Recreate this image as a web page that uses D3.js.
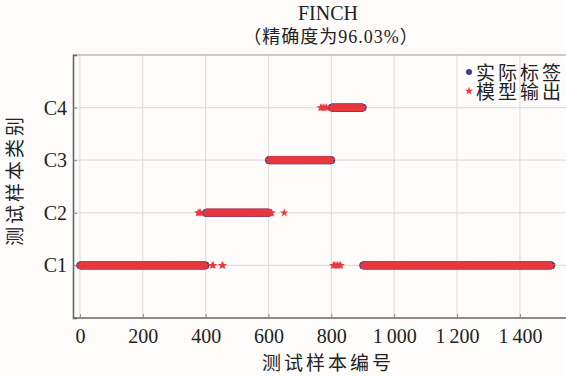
<!DOCTYPE html>
<html>
<head>
<meta charset="utf-8">
<script src="https://cdn.jsdelivr.net/npm/d3@7"></script>
<style>
  body { margin: 0; background: #fdfcfa; }
  svg { display: block; }
  text { font-family: "Liberation Serif", "Noto Sans CJK SC", serif; fill: #222; }
</style>
</head>
<body>
<svg id="chart"></svg>
<script>
// data
var classNames = ["C1", "C2", "C3", "C4"];
// true label ranges: [first sample, last sample, class index 1..4]
var segStart = [1, 401, 601, 801, 901];
var segEnd   = [400, 600, 800, 900, 1500];
var segClass = [1, 2, 3, 4, 1];
// misclassified samples and the class the model gave them
var errSample = [376, 380, 384, 421, 424, 452, 455, 604, 607, 610, 650, 766, 770, 775, 780, 785, 806, 810, 815, 820, 825, 830];
var errPred   = [2, 2, 2, 1, 1, 1, 1, 2, 2, 2, 2, 4, 4, 4, 4, 4, 1, 1, 1, 1, 1, 1];
var xTicks = [0, 200, 400, 600, 800, 1000, 1200, 1400];
var yTicks = [1, 2, 3, 4];

var width = 566, height = 376;
var margin = {left: 73, top: 55, right: 0, bottom: 58};

var svg = d3.select("#chart").attr("width", width).attr("height", height);

var x = d3.scaleLinear().domain([-22, 1550]).range([margin.left, margin.left + (1550 + 22) * 0.3143]);
var y = d3.scaleLinear().domain([0, 5]).range([height - margin.bottom, margin.top]);

// build sample table
var trueOf = {};
for (var s = 0; s < segStart.length; s++) {
    for (var i = segStart[s]; i <= segEnd[s]; i++) trueOf[i] = segClass[s];
}
var predOf = {};
for (var i in trueOf) predOf[i] = trueOf[i];
errSample.forEach(function(n, k) { predOf[n] = errPred[k]; });
var samples = d3.range(1, 1501).map(function(n) { return {n: n, t: trueOf[n], p: predOf[n]}; });

// grid
svg.append("g").selectAll("line").data(xTicks).join("line")
    .attr("x1", d => x(d)).attr("x2", d => x(d))
    .attr("y1", y(0)).attr("y2", y(5))
    .attr("stroke", "#e2dede").attr("stroke-width", 1.2);
svg.append("g").selectAll("line").data(yTicks).join("line")
    .attr("x1", margin.left).attr("x2", width)
    .attr("y1", d => y(d)).attr("y2", d => y(d))
    .attr("stroke", "#e2dede").attr("stroke-width", 1.2);

// top border
svg.append("line").attr("x1", margin.left).attr("x2", width)
    .attr("y1", y(5)).attr("y2", y(5)).attr("stroke", "#999").attr("stroke-width", 1.2);

// axes
var xAxis = svg.append("g").attr("transform", "translate(0," + y(0) + ")")
    .call(d3.axisBottom(x).tickValues(xTicks).tickSize(-4).tickPadding(11)
        .tickFormat(d => d >= 1000 ? Math.floor(d / 1000) + "\u2009" + d3.format("03d")(d % 1000) : d));
var yAxis = svg.append("g").attr("transform", "translate(" + margin.left + ",0)")
    .call(d3.axisLeft(y).tickValues(yTicks).tickSize(-4).tickPadding(6)
        .tickFormat(d => classNames[d - 1]));
[xAxis, yAxis].forEach(function(a) {
    a.select(".domain").attr("stroke", "#666").attr("stroke-width", 1.6);
    a.selectAll(".tick line").attr("stroke", "#888");
    a.selectAll("text").attr("font-size", "20px").attr("fill", "#222")
        .attr("font-family", "Liberation Serif, serif");
});
xAxis.select(".domain").attr("d", "M" + margin.left + ",0H" + width);

// marks
var circles = svg.append("g");
circles.selectAll("circle").data(samples).join("circle")
    .attr("cx", d => x(d.n)).attr("cy", d => y(d.t)).attr("r", 3.6)
    .attr("fill", "#3b3d8f").attr("stroke", "#5257a8").attr("stroke-width", 0.6);

var star = d3.symbol().type(d3.symbolStar).size(22);
svg.append("g").selectAll("path").data(samples).join("path")
    .attr("transform", d => "translate(" + x(d.n) + "," + y(d.p) + ")")
    .attr("d", star).attr("fill", "#e8393f");

// titles
svg.append("text").attr("x", 328).attr("y", 20).attr("text-anchor", "middle")
    .attr("font-size", "20px").text("FINCH");
svg.append("text").attr("x", 331).attr("y", 43).attr("text-anchor", "middle")
    .attr("font-size", "18px").attr("letter-spacing", "1px").text("（精确度为96.03%）");
svg.append("text").attr("x", 328).attr("y", 370).attr("text-anchor", "middle")
    .attr("font-size", "19px").attr("font-family", "Noto Sans CJK SC").attr("fill", "#333")
    .attr("letter-spacing", "3px").text("测试样本编号");
svg.append("text").attr("transform", "translate(22,180) rotate(-90)").attr("text-anchor", "middle")
    .attr("font-size", "19px").attr("font-family", "Noto Sans CJK SC").attr("fill", "#333")
    .attr("letter-spacing", "3px").text("测试样本类别");

// legend
var legend = svg.append("g");
legend.append("circle").attr("cx", 469).attr("cy", 72).attr("r", 3).attr("fill", "#3b3d8f");
legend.append("path").attr("transform", "translate(469,91)").attr("d", star).attr("fill", "#e8393f");
legend.append("text").attr("x", 476).attr("y", 80).attr("font-size", "19px")
    .attr("font-family", "Noto Sans CJK SC").attr("letter-spacing", "3px").text("实际标签");
legend.append("text").attr("x", 476).attr("y", 99).attr("font-size", "19px")
    .attr("font-family", "Noto Sans CJK SC").attr("letter-spacing", "3px").text("模型输出");
</script>
</body>
</html>
